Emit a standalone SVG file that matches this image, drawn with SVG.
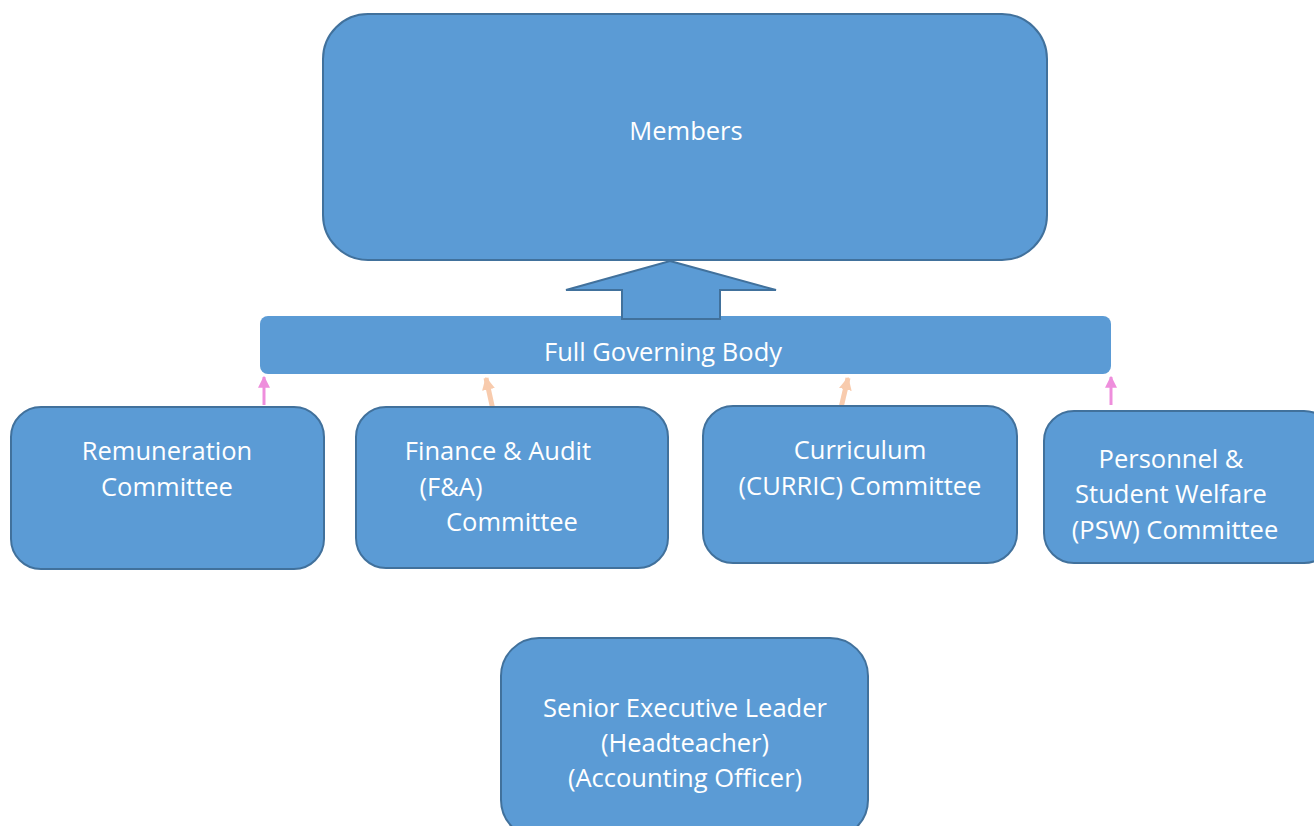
<svg xmlns="http://www.w3.org/2000/svg" width="1314" height="826" viewBox="0 0 1314 826">
<style>
.box{fill:#5B9BD5;stroke:#41719C;stroke-width:2}
.t{font-family:"Open Sans","Noto Sans",sans-serif;font-size:25.5px;fill:#FFFFFF;text-anchor:middle}
.pink{stroke:#EE8EDC;stroke-width:3;fill:none}
.peach{stroke:#F8CBAD;stroke-width:5;fill:none}
</style>
<defs>
<marker id="mp" viewBox="0 0 10 10" refX="9" refY="5" markerWidth="4" markerHeight="4" orient="auto" markerUnits="strokeWidth"><path d="M0,0 L10,5 L0,10 z" fill="#EE8EDC"/></marker>
<marker id="mo" viewBox="0 0 10 10" refX="9" refY="5" markerWidth="2.6" markerHeight="2.6" orient="auto" markerUnits="strokeWidth"><path d="M0,0 L10,5 L0,10 z" fill="#F8CBAD"/></marker>
</defs>
<rect width="1314" height="826" fill="#FFFFFF"/>
<g id="members">
<rect class="box" x="323" y="14" width="724" height="246" rx="45" ry="45"/>
<text class="t" x="686" y="140">Members</text>
</g>
<g id="fgb">
<rect x="260" y="316" width="851" height="58" rx="8" ry="8" fill="#5B9BD5"/>
<text class="t" x="663" y="361">Full Governing Body</text>
</g>
<g id="connectors">
<path class="box" d="M670,261 L776,290 L720,290 L720,319 L622,319 L622,290 L566,290 Z"/>
<line class="pink" x1="264" y1="405" x2="264" y2="377" marker-end="url(#mp)"/>
<line class="peach" x1="493" y1="410" x2="486" y2="378" marker-end="url(#mo)"/>
<line class="peach" x1="840" y1="412" x2="848" y2="378" marker-end="url(#mo)"/>
<line class="pink" x1="1111" y1="405" x2="1111" y2="377" marker-end="url(#mp)"/>
</g>
<g id="remuneration">
<rect class="box" x="11" y="407" width="313" height="162" rx="30" ry="30"/>
<text class="t" x="167" y="460">Remuneration</text>
<text class="t" x="167" y="496">Committee</text>
</g>
<g id="finance">
<rect class="box" x="356" y="407" width="312" height="161" rx="30" ry="30"/>
<text class="t" x="498" y="460">Finance &amp; Audit</text>
<text class="t" x="451" y="496">(F&amp;A)</text>
<text class="t" x="512" y="531">Committee</text>
</g>
<g id="curriculum">
<rect class="box" x="703" y="406" width="314" height="157" rx="30" ry="30"/>
<text class="t" x="860" y="459">Curriculum</text>
<text class="t" x="860" y="495">(CURRIC) Committee</text>
</g>
<g id="psw">
<rect class="box" x="1044" y="411" width="290" height="152" rx="30" ry="30"/>
<text class="t" x="1171" y="468">Personnel &amp;</text>
<text class="t" x="1171" y="503">Student Welfare</text>
<text class="t" x="1175" y="539">(PSW) Committee</text>
</g>
<g id="senior">
<rect class="box" x="501" y="638" width="367" height="200" rx="38" ry="38"/>
<text class="t" x="685" y="717">Senior Executive Leader</text>
<text class="t" x="685" y="752">(Headteacher)</text>
<text class="t" x="685" y="787">(Accounting Officer)</text>
</g>
</svg>
